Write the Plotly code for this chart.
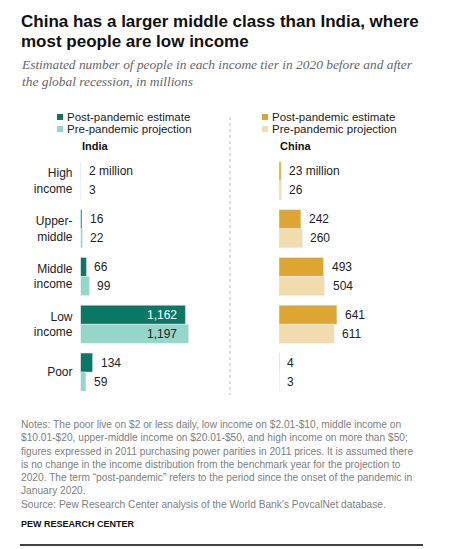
import plotly.graph_objects as go

# income tiers, top to bottom
tiers = ["High<br>income", "Upper-<br>middle", "Middle<br>income", "Low<br>income", "Poor"]

# people in each tier, millions
india_post = [2, 16, 66, 1162, 134]
india_pre = [3, 22, 99, 1197, 59]
china_post = [23, 242, 493, 641, 4]
china_pre = [26, 260, 504, 611, 3]

INDIA_POST_C = "#0b7866"
INDIA_PRE_C = "#95d6ca"
CHINA_POST_C = "#dea532"
CHINA_PRE_C = "#f2dbad"

W, H = 455, 549
SCALE = 0.0903  # px per million, same for both panels


def px(x):
    return x / W


def py(y):
    return 1 - y / H


BASE = "Liberation Sans, Arial, sans-serif"

fig = go.Figure()

fig.add_trace(go.Bar(x=india_post, y=tiers, orientation="h", marker_color=INDIA_POST_C,
                     xaxis="x", yaxis="y", hoverinfo="x"))
fig.add_trace(go.Bar(x=india_pre, y=tiers, orientation="h", marker_color=INDIA_PRE_C,
                     xaxis="x", yaxis="y", hoverinfo="x"))
fig.add_trace(go.Bar(x=china_post, y=tiers, orientation="h", marker_color=CHINA_POST_C,
                     xaxis="x2", yaxis="y2", hoverinfo="x"))
fig.add_trace(go.Bar(x=china_pre, y=tiers, orientation="h", marker_color=CHINA_PRE_C,
                     xaxis="x2", yaxis="y2", hoverinfo="x"))

annotations = []


def fmt(v):
    return f"{v:,}"


# value labels
for axis, post, pre in [("", india_post, india_pre), ("2", china_post, china_pre)]:
    for i, t in enumerate(tiers):
        for vals, shift, kind in [(post, 9.5, "post"), (pre, -9.5, "pre")]:
            v = vals[i]
            txt = fmt(v)
            if i == 0 and kind == "post":
                txt += " million"
            inside = axis == "" and v > 1000
            if inside:
                color = "white" if kind == "post" else "#222"
                annotations.append(dict(x=v, y=t, xref="x" + axis, yref="y" + axis, text=txt,
                                        showarrow=False, xanchor="right", yshift=shift,
                                        xshift=-6 if kind == "post" else -9.5,
                                        font=dict(family=BASE, size=12, color=color)))
            else:
                annotations.append(dict(x=v, y=t, xref="x" + axis, yref="y" + axis, text=txt,
                                        showarrow=False, xanchor="left", yshift=shift, xshift=6,
                                        font=dict(family=BASE, size=12, color="#222")))

# title and subtitle
annotations.append(dict(x=px(19), y=py(21), xref="paper", yref="paper", xanchor="left",
                        yanchor="middle", showarrow=False,
                        text="<b>China has a larger middle class than India, where</b>",
                        font=dict(family=BASE, size=17, color="#111")))
annotations.append(dict(x=px(19), y=py(41), xref="paper", yref="paper", xanchor="left",
                        yanchor="middle", showarrow=False,
                        text="<b>most people are low income</b>",
                        font=dict(family=BASE, size=17, color="#111")))
annotations.append(dict(x=px(19), y=py(55), xref="paper", yref="paper", xanchor="left",
                        yanchor="top", showarrow=False, align="left",
                        text="<i>Estimated number of people in each income tier in 2020 before and after<br>"
                             "the global recession, in millions</i>",
                        font=dict(family="Liberation Serif, Georgia, serif", size=13.4, color="#666")))

# legends
for x0 in [57, 262]:
    for yc, label in [(117, "Post-pandemic estimate"), (129, "Pre-pandemic projection")]:
        annotations.append(dict(x=px(x0 + 8), y=py(yc), xref="paper", yref="paper",
                                xanchor="left", yanchor="middle", showarrow=False, text=label,
                                font=dict(family=BASE, size=11.5, color="#222")))

annotations.append(dict(x=px(80), y=py(146), xref="paper", yref="paper", xanchor="left",
                        yanchor="middle", showarrow=False, text="<b>India</b>",
                        font=dict(family=BASE, size=11, color="#111")))
annotations.append(dict(x=px(278), y=py(146), xref="paper", yref="paper", xanchor="left",
                        yanchor="middle", showarrow=False, text="<b>China</b>",
                        font=dict(family=BASE, size=11, color="#111")))

# notes, source, credit
notes = ("Notes: The poor live on $2 or less daily, low income on $2.01-$10, middle income on<br>"
         "$10.01-$20, upper-middle income on $20.01-$50, and high income on more than $50;<br>"
         "figures expressed in 2011 purchasing power parities in 2011 prices. It is assumed there<br>"
         "is no change in the income distribution from the benchmark year for the projection to<br>"
         "2020. The term \u201cpost-pandemic\u201d refers to the period since the onset of the pandemic in<br>"
         "January 2020.<br>"
         "Source: Pew Research Center analysis of the World Bank\u2019s PovcalNet database.")
annotations.append(dict(x=px(19), y=py(417), xref="paper", yref="paper", xanchor="left",
                        yanchor="top", showarrow=False, align="left", text=notes,
                        font=dict(family=BASE, size=10.2, color="#808080")))
annotations.append(dict(x=px(19), y=py(524), xref="paper", yref="paper", xanchor="left",
                        yanchor="middle", showarrow=False, text="<b>PEW RESEARCH CENTER</b>",
                        font=dict(family=BASE, size=9, color="#111")))

shapes = []
for x0, post_c, pre_c in [(57, INDIA_POST_C, INDIA_PRE_C), (262, CHINA_POST_C, CHINA_PRE_C)]:
    for yc, c in [(117, post_c), (129, pre_c)]:
        shapes.append(dict(type="rect", xref="paper", yref="paper", x0=px(x0), x1=px(x0 + 6),
                           y0=py(yc + 3), y1=py(yc - 3), fillcolor=c, line_width=0))
shapes.append(dict(type="line", xref="paper", yref="paper", x0=px(230), x1=px(230),
                   y0=py(117), y1=py(395), line=dict(color="#bbb", width=1, dash="dot")))
shapes.append(dict(type="line", xref="paper", yref="paper", x0=px(20), x1=px(423),
                   y0=py(545), y1=py(545), line=dict(color="#000", width=1.5)))

ydom = [py(396), py(157)]

fig.update_layout(
    width=W, height=H,
    margin=dict(l=0, r=0, t=0, b=0),
    paper_bgcolor="white", plot_bgcolor="white",
    barmode="group", bargap=0.204, bargroupgap=0,
    showlegend=False,
    annotations=annotations,
    shapes=shapes,
    xaxis=dict(domain=[px(80.5), px(225)], range=[0, (225 - 80.5) / SCALE], visible=False,
               fixedrange=True, anchor="y", automargin=False),
    yaxis=dict(domain=ydom, type="category", categoryorder="array", categoryarray=tiers,
               autorange="reversed", showgrid=False, zeroline=False, showline=False,
               ticks="", ticklabelstandoff=7, anchor="x", fixedrange=True, automargin=False,
               tickfont=dict(family=BASE, size=12, color="#222")),
    xaxis2=dict(domain=[px(279), px(445)], range=[0, (445 - 279) / SCALE], visible=False,
                fixedrange=True, anchor="y2", automargin=False),
    yaxis2=dict(domain=ydom, type="category", categoryorder="array", categoryarray=tiers,
                autorange="reversed", showgrid=False, zeroline=False, showline=False,
                showticklabels=False, ticks="", anchor="x2", fixedrange=True, automargin=False),
)

# drop the browser's default body margin so the figure sits at the window edge
fig.write_html("out.html", config={"displayModeBar": False},
               post_script="document.body.style.margin='0';")
